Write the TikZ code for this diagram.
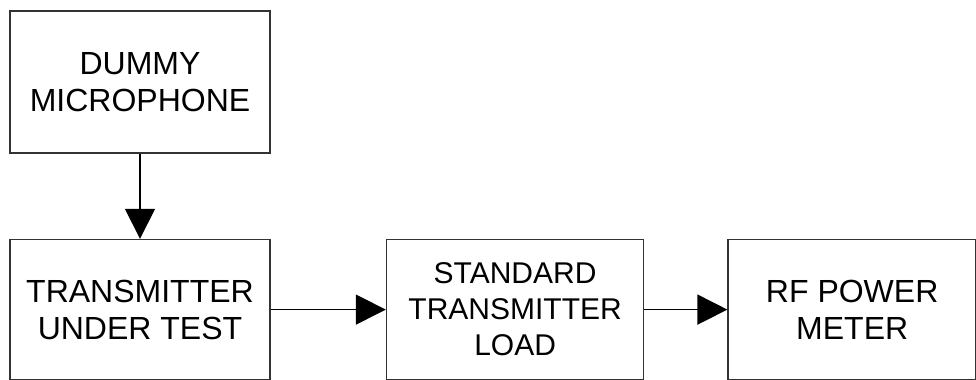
\documentclass[tikz,border=0pt]{standalone}
\usepackage{fontspec}
\setmainfont{Liberation Sans}
\usepackage{tikz}
\usetikzlibrary{arrows.meta,positioning}
\definecolor{lnc}{HTML}{333333}

\begin{document}
\begin{tikzpicture}[
    node distance=42.5pt and 57.5pt,
    blk/.style={draw=lnc, line width=0.8pt, align=center, inner sep=2pt,
                minimum height=70pt, font=\fontsize{16pt}{18.5pt}\selectfont},
    ar/.style={-{Triangle[length=15pt,width=15pt]}, line width=0.8pt, draw=black}
]
\useasboundingbox (0,0) rectangle (488pt,-190pt);
\node[blk, minimum width=130pt, minimum height=71pt] (mic) at (70pt,-41pt) {DUMMY\\MICROPHONE};
\node[blk, minimum width=130pt, below=of mic] (tx) {TRANSMITTER\\UNDER TEST};
\node[blk, minimum width=128.5pt, right=of tx,
      font=\fontsize{15pt}{18pt}\selectfont] (load) {STANDARD\\TRANSMITTER\\LOAD};
\node[blk, minimum width=124pt, right=41.5pt of load] (rf) {RF POWER\\METER};

\draw[ar] (mic) -- (tx);
\draw[ar] (tx) -- (load);
\draw[ar] (load) -- (rf);
\end{tikzpicture}
\end{document}
